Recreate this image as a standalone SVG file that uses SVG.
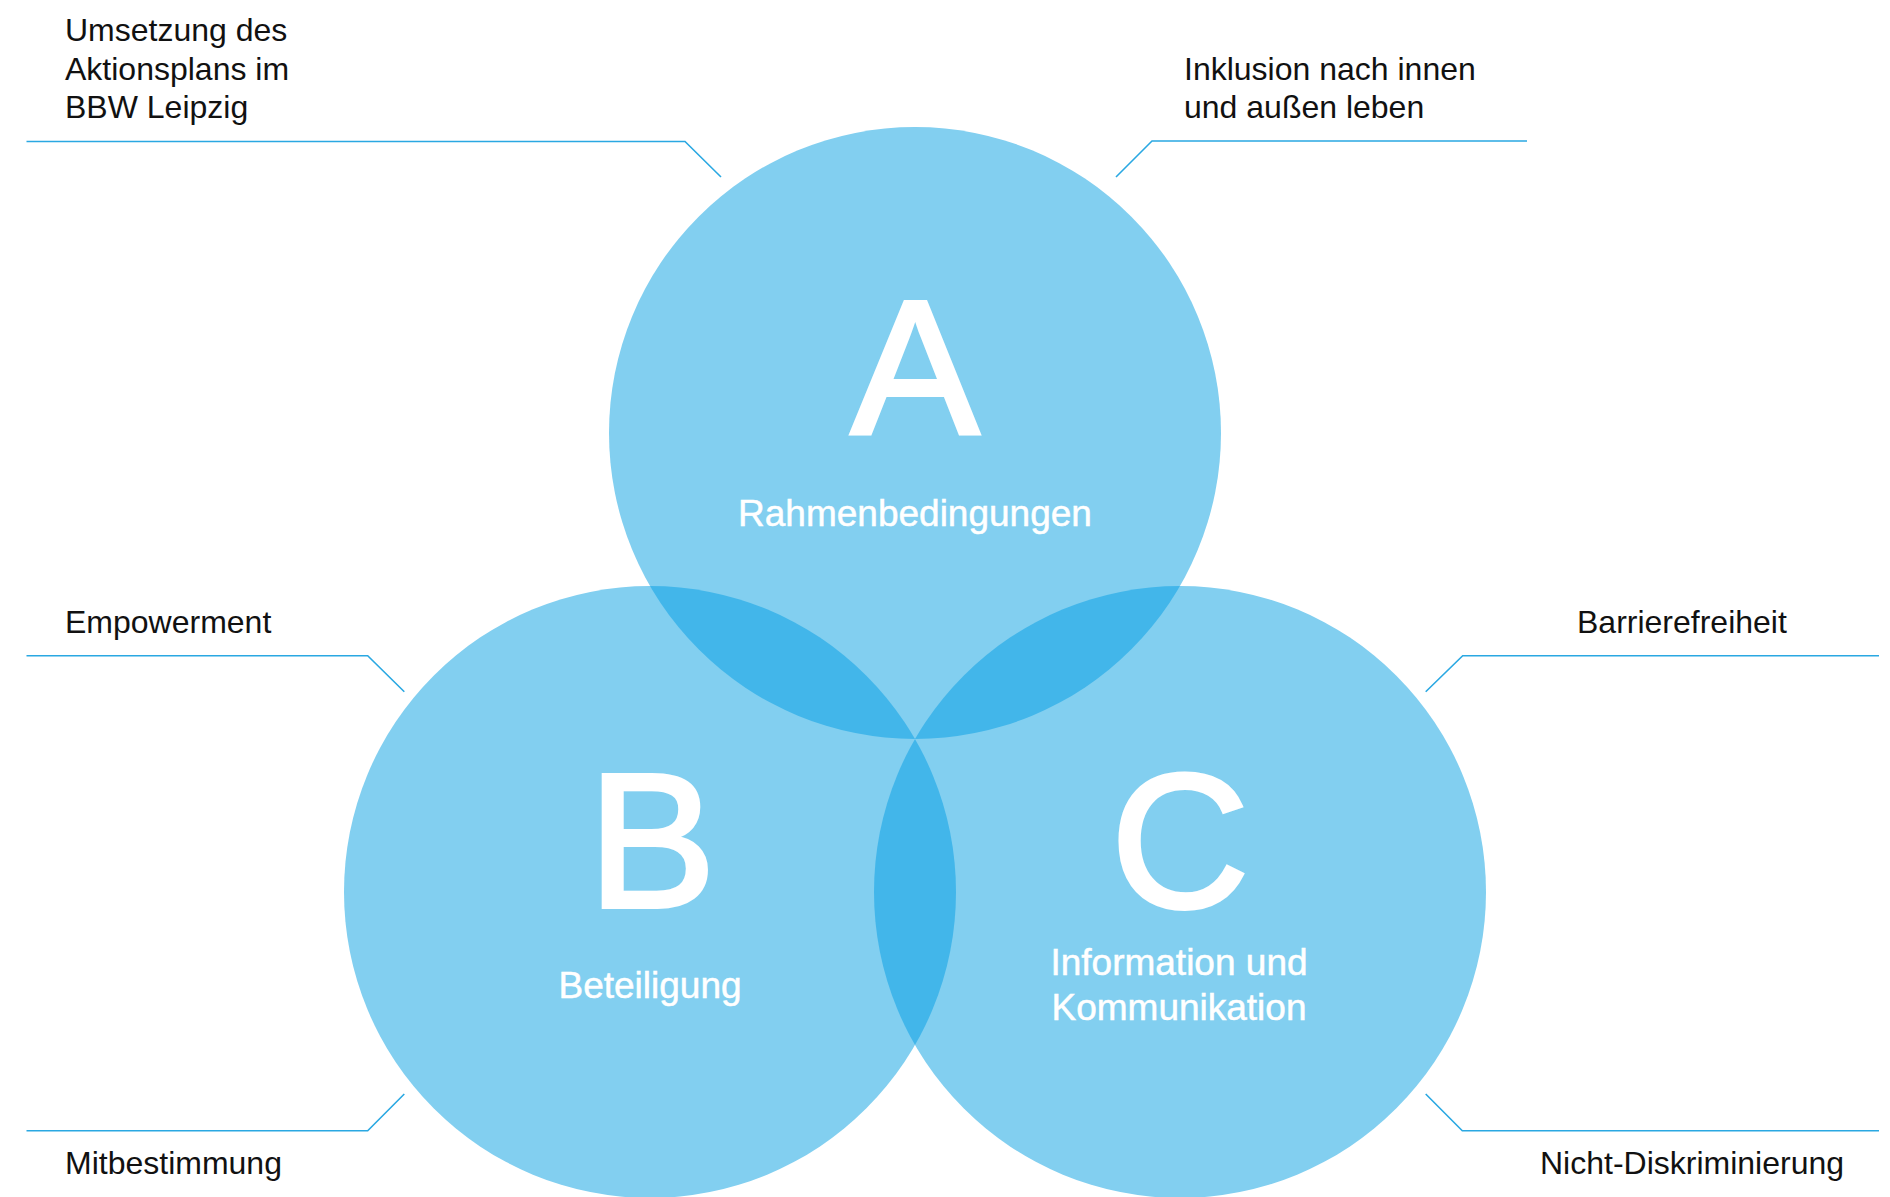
<svg xmlns="http://www.w3.org/2000/svg" width="1890" height="1197" viewBox="0 0 1890 1197">
<style>
.circ{fill:#82CFF0}
.lens{fill:#42B6EA}
.lbl{font-family:"Liberation Sans",Arial,sans-serif;font-size:32px;fill:#111}
.big{font-family:"Liberation Sans",Arial,sans-serif;font-size:192px;fill:#fff;stroke:#fff;stroke-width:4;text-anchor:middle}
.name{font-family:"Liberation Sans",Arial,sans-serif;font-size:37px;fill:#fff;stroke:#fff;stroke-width:0.5;text-anchor:middle}
.con{fill:none;stroke:#2AA8E2;stroke-width:1.6}
</style>
<defs>
<clipPath id="clipA"><circle cx="915" cy="433" r="306"/></clipPath>
<clipPath id="clipB"><circle cx="650" cy="892" r="306"/></clipPath>
</defs>
<rect width="1890" height="1197" fill="#fff"/>
<g id="circles">
<circle class="circ" cx="915" cy="433" r="306"/>
<circle class="circ" cx="650" cy="892" r="306"/>
<circle class="circ" cx="1180" cy="892" r="306"/>
<circle class="lens" cx="650" cy="892" r="306" clip-path="url(#clipA)"/>
<circle class="lens" cx="1180" cy="892" r="306" clip-path="url(#clipA)"/>
<circle class="lens" cx="1180" cy="892" r="306" clip-path="url(#clipB)"/>
</g>
<g id="node-A">
<text class="big" x="915" y="434">A</text>
<text class="name" x="915" y="526">Rahmenbedingungen</text>
</g>
<g id="node-B">
<text class="big" x="652" y="907">B</text>
<text class="name" x="650" y="998">Beteiligung</text>
</g>
<g id="node-C">
<text class="big" x="1180" y="907">C</text>
<text class="name" x="1179" y="975">Information und</text>
<text class="name" x="1179" y="1020">Kommunikation</text>
</g>
<g id="connectors">
<polyline class="con" points="26.5,141.5 685,141.5 721,177"/>
<polyline class="con" points="1527,141 1152,141 1116,177"/>
<polyline class="con" points="26.5,655.7 367.7,655.7 404.3,691.7"/>
<polyline class="con" points="1879,655.7 1462.7,655.7 1425.7,691.7"/>
<polyline class="con" points="26.5,1130.7 367.7,1130.7 404.3,1094"/>
<polyline class="con" points="1879,1130.7 1462.3,1130.7 1425.7,1094"/>
</g>
<g id="label-tl">
<text class="lbl" x="65" y="40.5">Umsetzung des</text>
<text class="lbl" x="65" y="80">Aktionsplans im</text>
<text class="lbl" x="65" y="118">BBW Leipzig</text>
</g>
<g id="label-tr">
<text class="lbl" x="1184" y="80">Inklusion nach innen</text>
<text class="lbl" x="1184" y="117.5">und außen leben</text>
</g>
<g id="label-ml"><text class="lbl" x="65" y="633.3">Empowerment</text></g>
<g id="label-mr"><text class="lbl" x="1577" y="633.3">Barrierefreiheit</text></g>
<g id="label-bl"><text class="lbl" x="65" y="1174.3">Mitbestimmung</text></g>
<g id="label-br"><text class="lbl" x="1540" y="1174.3">Nicht-Diskriminierung</text></g>
</svg>
